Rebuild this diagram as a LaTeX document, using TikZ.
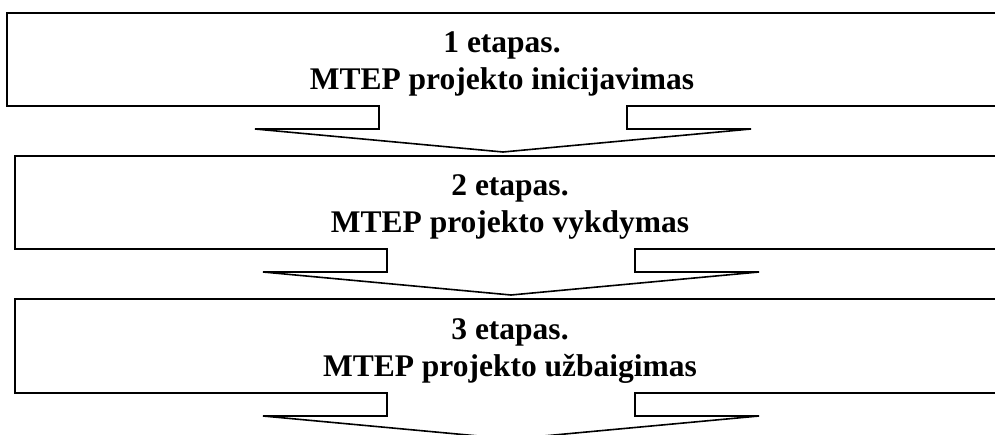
\documentclass[tikz,border=0pt]{standalone}
\usepackage{fontspec}
\setmainfont{Liberation Serif}

\tikzset{
    stageline/.style={black, line width=1.6pt, line join=miter},
    stagetext/.style={font=\bfseries\fontsize{31.5}{36}\selectfont, inner sep=0pt, anchor=base}
}

\begin{document}
\begin{tikzpicture}[x=1pt, y=-1pt]

    % Parameters
    \def\shaftw{124}   % half width of the arrow shaft
    \def\headw{248}    % half width of the arrow head
    \def\shafth{23}    % shaft length below the box
    \def\headh{23}     % head depth

    \useasboundingbox (0,0) rectangle (995,435);
    \clip (0,0) rectangle (995,435);

    % =====================================================
    % Stages: left edge / top / bottom / arrow centre
    % =====================================================
    \foreach \n/\lx/\ty/\by/\cx in {1/7/13/106/503, 2/15/156/249/511, 3/15/299/393/511} {
        \coordinate (tl\n) at (\lx,\ty);
        \coordinate (bl\n) at (\lx,\by);
        \coordinate (tip\n) at (\cx,\by+\shafth+\headh);
        \draw[stageline]
            (1010,\ty) -- (tl\n) -- (bl\n) -- (\cx-\shaftw,\by)
            -- ++(0,\shafth) -- (\cx-\headw,\by+\shafth)
            -- (tip\n)
            -- (\cx+\headw,\by+\shafth) -- (\cx+\shaftw,\by+\shafth)
            -- (\cx+\shaftw,\by) -- (1010,\by);
    }

    % =====================================================
    % Labels
    % =====================================================
    \node[stagetext] (head1) at (502,53) {1 etapas.};
    \node[stagetext] (name1) at (502,90) {MTEP projekto inicijavimas};

    \node[stagetext] (head2) at (510,196) {2 etapas.};
    \node[stagetext] (name2) at (510,233) {MTEP projekto vykdymas};

    \node[stagetext] (head3) at (510,339) {3 etapas.};
    \node[stagetext] (name3) at (510,376) {MTEP projekto užbaigimas};

\end{tikzpicture}
\end{document}
